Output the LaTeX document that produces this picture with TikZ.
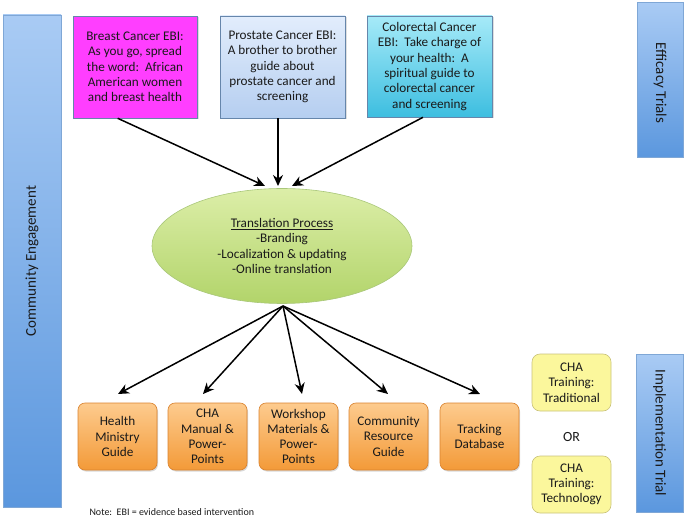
\documentclass[tikz,border=0pt]{standalone}
\usepackage{fontspec}
\setmainfont{Carlito}
\usetikzlibrary{arrows.meta,shapes.geometric,shadows}
\definecolor{barTop}{HTML}{A9CBF4}
\definecolor{barBot}{HTML}{5B97DE}
\definecolor{barLine}{HTML}{7FA7D6}
\definecolor{mag}{HTML}{FF3EFF}
\definecolor{proTop}{HTML}{E2EDFC}
\definecolor{proBot}{HTML}{B5CEF0}
\definecolor{colTop}{HTML}{A6EAF8}
\definecolor{colBot}{HTML}{3DBEE0}
\definecolor{grTop}{HTML}{DCEEA8}
\definecolor{grBot}{HTML}{B2D46A}
\definecolor{grLine}{HTML}{A9C77A}
\definecolor{orTop}{HTML}{FDCB8E}
\definecolor{orBot}{HTML}{F39A38}
\definecolor{orLine}{HTML}{D9822E}
\definecolor{yel}{HTML}{FBF79C}
\definecolor{yelLine}{HTML}{C9C27A}
\definecolor{txt}{HTML}{1A1A1A}
\begin{document}
\begin{tikzpicture}[x=1pt,y=-1pt,
  every node/.style={text=txt,font=\fontsize{13.2}{15.3}\selectfont},
  bar/.style={draw=barLine,line width=0.6pt,top color=barTop,bottom color=barBot,inner sep=0pt},
  sidetext/.style={font=\fontsize{15}{18}\selectfont},
  ebi/.style={draw=barLine!80!black,line width=0.6pt,inner sep=0pt,align=center,drop shadow={opacity=0.25,shadow xshift=1.5pt,shadow yshift=-1.5pt}},
  outbox/.style={draw=orLine,line width=0.6pt,rounded corners=7pt,top color=orTop,bottom color=orBot,minimum width=79pt,minimum height=67pt,inner sep=0pt,align=center,drop shadow={opacity=0.3,shadow xshift=1pt,shadow yshift=-1.5pt}},
  trainbox/.style={draw=yelLine,line width=0.6pt,rounded corners=8pt,fill=yel,minimum width=79pt,minimum height=57pt,inner sep=0pt,align=center},
  arr/.style={line width=1.5pt,-{Stealth[length=11pt,width=10pt]}}]
\useasboundingbox (0,0) rectangle (685,521);
% side bars
\node[bar,minimum width=58pt,minimum height=492pt] (ce) at (32,261) {};
\node[rotate=90,sidetext] (cetext) at (32,261) {Community Engagement};
\node[bar,minimum width=46pt,minimum height=155pt] (eff) at (660,80) {};
\node[rotate=-90,sidetext] (efftext) at (660,83) {Efficacy Trials};
\node[bar,minimum width=47pt,minimum height=158pt] (imp) at (659.5,433) {};
\node[rotate=-90,sidetext] (imptext) at (659.5,433) {Implementation Trial};
% EBI boxes
\node[ebi,fill=mag,minimum width=124pt,minimum height=102pt] (breast) at (135,67)
  {Breast Cancer EBI:\\As you go, spread\\the word:\ \ African\\American women\\and breast health};
\node[ebi,top color=proTop,bottom color=proBot,minimum width=125pt,minimum height=102pt] (prost) at (282.5,67)
  {Prostate Cancer EBI:\\A brother to brother\\guide about\\prostate cancer and\\screening};
\node[ebi,top color=colTop,bottom color=colBot,minimum width=125pt,minimum height=101pt] (colo) at (429.5,66.5)
  {Colorectal Cancer\\EBI:\ \ Take charge of\\your health:\ \ A\\spiritual guide to\\colorectal cancer\\and screening};
% ellipse
\node[ellipse,draw=grLine,line width=0.6pt,top color=grTop,bottom color=grBot,minimum width=260pt,minimum height=115pt,inner sep=0pt,align=center] (tp) at (282,246)
  {\underline{Translation Process}\\-Branding\\-Localization \& updating\\-Online translation};
% output boxes
\node[outbox] (hm) at (117.5,436.5) {Health\\Ministry\\Guide};
\node[outbox] (cha) at (207.5,436.5) {CHA\\Manual \&\\Power-\\Points};
\node[outbox] (ws) at (298.5,436.5) {Workshop\\Materials \&\\Power-\\Points};
\node[outbox] (crg) at (388.5,436.5) {Community\\Resource\\Guide};
\node[outbox] (td) at (479.5,436.5) {Tracking\\Database};
% training boxes
\node[trainbox] (trad) at (571.5,382.5) {CHA\\Training:\\Traditional};
\node[font=\fontsize{14}{16}\selectfont] (or) at (571.5,437) {OR};
\node[trainbox] (tech) at (571.5,484.5) {CHA\\Training:\\Technology};
% note
\node[anchor=west,font=\fontsize{10}{12}\selectfont] (note) at (86,512) {Note:\ \ EBI = evidence based intervention};
% arrow coordinates
\coordinate (inA) at (265,186);
\coordinate (inB) at (278,186);
\coordinate (inC) at (292,186);
\coordinate (out) at (283,306);
\coordinate (hmT) at (118,394);
\coordinate (chaT) at (203,394);
\coordinate (wsT) at (302,394);
\coordinate (crgT) at (388,394);
\coordinate (tdT) at (480,394);
\draw[arr] (breast.south west) ++(45,0) -- (inA);
\draw[arr] (prost.south) ++(-4.5,0) -- (inB);
\draw[arr] (colo.south) ++(-6.5,0) -- (inC);
\draw[arr] (out) -- (hmT);
\draw[arr] (out) -- (chaT);
\draw[arr] (out) -- (wsT);
\draw[arr] (out) -- (crgT);
\draw[arr] (out) -- (tdT);
\end{tikzpicture}
\end{document}
